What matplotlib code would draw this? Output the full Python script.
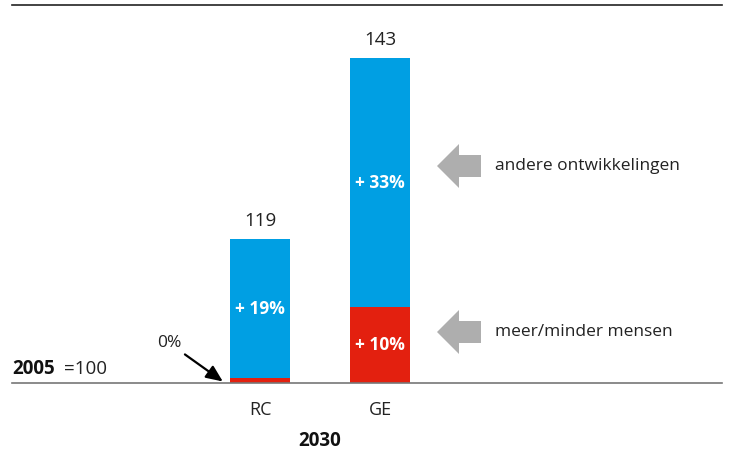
import matplotlib
matplotlib.use("Agg")
import matplotlib.pyplot as plt
from matplotlib.patches import Polygon

plt.rcParams['font.family'] = ['Open Sans', 'DejaVu Sans']

categories = ["RC", "GE"]
base = 100
population = [0.6, 10]          # meer/minder mensen (index points)
other = [18.4, 33]              # andere ontwikkelingen
totals = [119, 143]
pop_labels = ["0%", "+ 10%"]
other_labels = ["+ 19%", "+ 33%"]

blue = "#009FE3"
red = "#E3200F"
grey = "#AEAEAE"

fig = plt.figure(figsize=(7.35, 4.54), dpi=100)
ax = fig.add_axes([12/735, (454-383)/454, 710/735, 378/454])

x = [0, 1]
ax.bar(x, population, bottom=base, width=0.5, color=red, zorder=2)
ax.bar(x, other, bottom=[base + p for p in population], width=0.5, color=blue, zorder=2)

for i in range(2):
    ax.text(x[i], totals[i] + 1.2, str(totals[i]), ha='center', va='bottom',
            fontsize=13.5, color='#222222')
    ax.text(x[i], base + population[i] + other[i] / 2, other_labels[i], ha='center',
            va='center', fontsize=12.5, color='white', fontweight='bold')

ax.text(x[1], base + population[1] / 2, pop_labels[1], ha='center', va='center',
        fontsize=12.5, color='white', fontweight='bold')

# 0% annotation for RC
ax.annotate(pop_labels[0], xy=(x[0] - 0.31, base + 0.2), xytext=(x[0] - 0.76, 105.3),
            size=12.5, color='#222222', ha='center', va='center',
            arrowprops=dict(arrowstyle='-|>,head_length=0.8,head_width=0.35',
                            color='black', lw=1.6, shrinkA=1, shrinkB=0))

ax.set_xlim(-2.067, 3.85)
ax.set_ylim(100, 150)

for s in ['left', 'right']:
    ax.spines[s].set_visible(False)
ax.spines['top'].set_color('#222222')
ax.spines['top'].set_linewidth(1.2)
ax.spines['bottom'].set_color('#777777')
ax.spines['bottom'].set_linewidth(1.2)
ax.set_yticks([])
ax.set_xticks(x)
ax.set_xticklabels(categories, fontsize=13, color='#222222')
ax.tick_params(axis='x', length=0, pad=13)

fig.text(320/735, 1 - 441/454, "2030", ha='center', va='center', fontsize=13.5,
         fontweight='bold', color='#111111')
fig.text(12/735, 1 - 369/454, "2005", ha='left', va='center', fontsize=13.5,
         fontweight='bold', color='#111111')
fig.text(64/735, 1 - 369/454, "=100", ha='left', va='center', fontsize=13.5,
         color='#222222')

# grey block arrows pointing to the GE bar segments
def block_arrow(cy_px, label):
    def px(xp, yp):
        return (xp / 735, 1 - yp / 454)
    pts = [px(437, cy_px), px(459, cy_px - 22), px(459, cy_px - 11),
           px(481, cy_px - 11), px(481, cy_px + 11), px(459, cy_px + 11),
           px(459, cy_px + 22)]
    fig.patches.append(Polygon(pts, closed=True, transform=fig.transFigure,
                               facecolor=grey, edgecolor='none'))
    fig.text(495 / 735, 1 - cy_px / 454, label, ha='left', va='center',
             fontsize=12.5, color='#222222')

block_arrow(166, "andere ontwikkelingen")
block_arrow(332, "meer/minder mensen")

fig.savefig("out.png", dpi=100)
